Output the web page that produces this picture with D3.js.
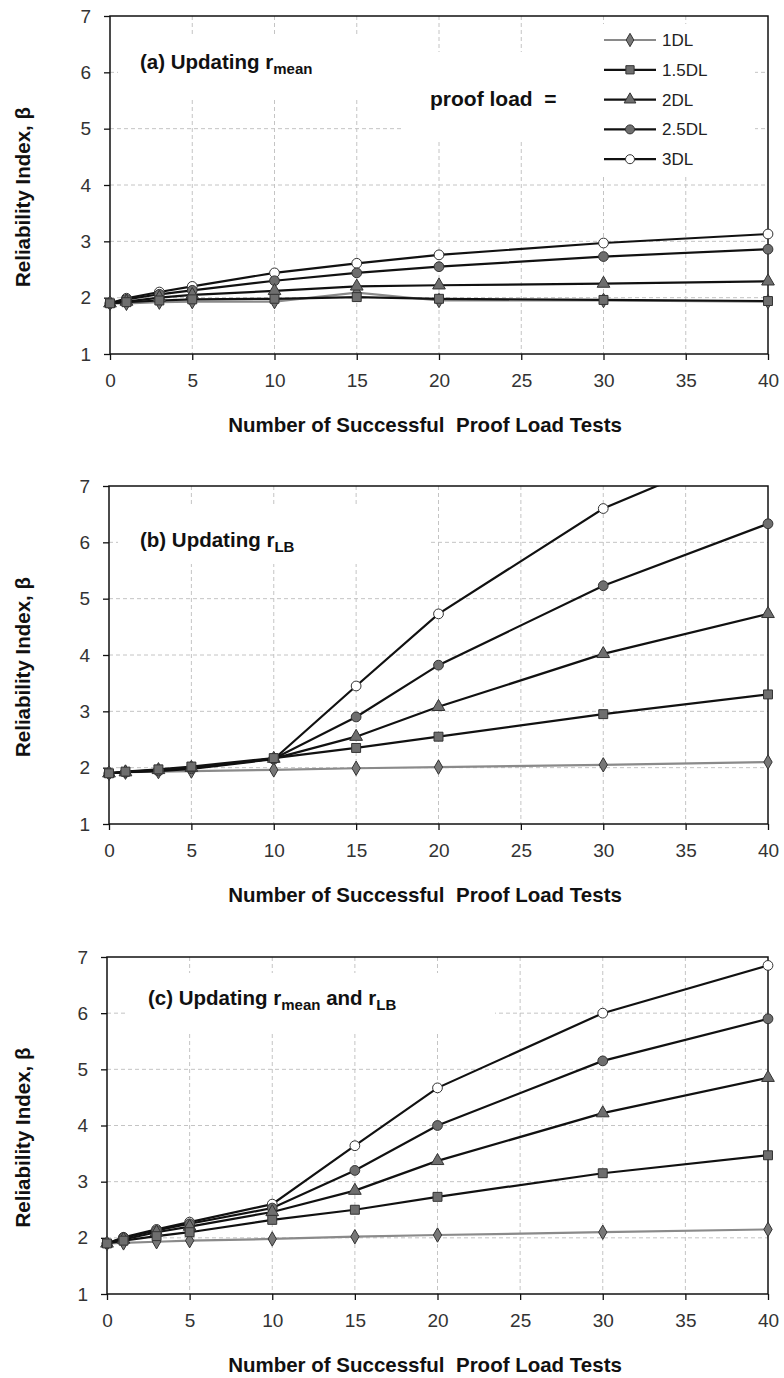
<!DOCTYPE html>
<html>
<head>
<meta charset="utf-8">
<script src="https://cdn.jsdelivr.net/npm/d3@7"></script>
<style>
  body { margin: 0; background: #fff; }
  svg text { font-family: "Liberation Sans", Arial, sans-serif; }
</style>
</head>
<body>
<div class="canvas"></div>
<script>
// number of proof load tests (x) and axis ticks
const tests = [0, 1, 3, 5, 10, 15, 20, 30, 40];
const xTicks = [0, 5, 10, 15, 20, 25, 30, 35, 40];
const yTicks = [1, 2, 3, 4, 5, 6, 7];
const loads = ['1DL', '1.5DL', '2DL', '2.5DL', '3DL'];

// (a) updating r_mean
const a1DL  = [1.90, 1.90, 1.92, 1.93, 1.93, 2.09, 1.95, 1.95, 1.93];
const a15DL = [1.90, 1.92, 1.95, 1.97, 1.98, 2.01, 1.98, 1.96, 1.94];
const a2DL  = [1.90, 1.93, 2.00, 2.05, 2.12, 2.20, 2.22, 2.25, 2.29];
const a25DL = [1.90, 1.97, 2.06, 2.13, 2.30, 2.44, 2.55, 2.73, 2.86];
const a3DL  = [1.90, 1.99, 2.10, 2.20, 2.44, 2.61, 2.76, 2.97, 3.13];

// (b) updating r_LB
const b1DL  = [1.90, 1.92, 1.93, 1.94, 1.96, 1.99, 2.01, 2.05, 2.10];
const b15DL = [1.90, 1.93, 1.97, 2.02, 2.17, 2.35, 2.55, 2.95, 3.30];
const b2DL  = [1.90, 1.92, 1.96, 2.00, 2.16, 2.55, 3.08, 4.02, 4.73];
const b25DL = [1.90, 1.92, 1.95, 1.99, 2.16, 2.90, 3.82, 5.23, 6.33];
const b3DL  = [1.90, 1.92, 1.94, 1.98, 2.15, 3.45, 4.73, 6.60, 7.83];

// (c) updating r_mean and r_LB
const c1DL  = [1.90, 1.91, 1.93, 1.95, 1.98, 2.02, 2.05, 2.10, 2.15];
const c15DL = [1.90, 1.95, 2.03, 2.10, 2.32, 2.50, 2.73, 3.15, 3.47];
const c2DL  = [1.90, 1.97, 2.10, 2.20, 2.46, 2.84, 3.37, 4.22, 4.85];
const c25DL = [1.90, 2.00, 2.13, 2.25, 2.53, 3.20, 4.00, 5.15, 5.90];
const c3DL  = [1.90, 2.01, 2.15, 2.28, 2.60, 3.64, 4.67, 6.00, 6.85];

const svg = d3.select('.canvas')
    .append('svg')
        .attr('width', 784)
        .attr('height', 1378);

// marker style per proof load
const markers = {
    '1DL':   {shape: d3.symbolDiamond,  size: 60, fill: '#777', line: '#8a8a8a'},
    '1.5DL': {shape: d3.symbolSquare,   size: 80, fill: '#6e6e6e', line: '#111'},
    '2DL':   {shape: d3.symbolTriangle, size: 70, fill: '#6e6e6e', line: '#111'},
    '2.5DL': {shape: d3.symbolCircle,   size: 75, fill: '#6e6e6e', line: '#111'},
    '3DL':   {shape: d3.symbolCircle,   size: 75, fill: '#fff', line: '#111'}
};
// draw order (later on top)
const drawOrder = ['1DL', '3DL', '2.5DL', '2DL', '1.5DL'];

const panels = [
    {id: 'a', left: 110, top: 16, bottom: 354, titleX: 140, titleY: 69,
     title: [['(a) Updating r', 0], ['mean', 1]],
     boxes: [[118, 36, 285, 61], [403, 52, 195, 88], [598, 24, 157, 150]],
     series: {'1DL': a1DL, '1.5DL': a15DL, '2DL': a2DL, '2.5DL': a25DL, '3DL': a3DL}},
    {id: 'b', left: 109, top: 486, bottom: 824, titleX: 140, titleY: 547,
     title: [['(b) Updating r', 0], ['LB', 1]],
     boxes: [[118, 506, 310, 58]],
     series: {'1DL': b1DL, '1.5DL': b15DL, '2DL': b2DL, '2.5DL': b25DL, '3DL': b3DL}},
    {id: 'c', left: 107, top: 957, bottom: 1294, titleX: 148, titleY: 1005,
     title: [['(c) Updating r', 0], ['mean', 1], [' and r', 0], ['LB', 1]],
     boxes: [[125, 973, 370, 60]],
     series: {'1DL': c1DL, '1.5DL': c15DL, '2DL': c2DL, '2.5DL': c25DL, '3DL': c3DL}}
];

const right = 768;

panels.forEach(p => {
    const x = d3.scaleLinear().domain([0, 40]).range([p.left, right]);
    const y = d3.scaleLinear().domain([1, 7]).range([p.bottom, p.top]);
    const g = svg.append('g');

    // grid lines
    g.append('g').selectAll('line.v')
        .data(xTicks.slice(1, -1))
        .enter().append('line')
            .attr('x1', d => x(d)).attr('x2', d => x(d))
            .attr('y1', p.top).attr('y2', p.bottom)
            .attr('stroke', '#c4c4c4').attr('stroke-dasharray', '4,3');
    g.append('g').selectAll('line.h')
        .data(yTicks.slice(1, -1))
        .enter().append('line')
            .attr('x1', p.left).attr('x2', right)
            .attr('y1', d => y(d)).attr('y2', d => y(d))
            .attr('stroke', '#c4c4c4').attr('stroke-dasharray', '4,3');

    // white boxes behind the text labels
    p.boxes.forEach(b => {
        g.append('rect').attr('x', b[0]).attr('y', b[1])
            .attr('width', b[2]).attr('height', b[3]).attr('fill', '#fff');
    });

    // axes
    const xAxis = d3.axisBottom(x).tickValues(xTicks).tickSize(6).tickPadding(14);
    const yAxis = d3.axisLeft(y).tickValues(yTicks).tickSize(6).tickPadding(13)
        .tickFormat(d3.format('d'));
    const xg = g.append('g').attr('transform', `translate(0,${p.bottom})`).call(xAxis);
    const yg = g.append('g').attr('transform', `translate(${p.left},0)`).call(yAxis);
    [xg, yg].forEach(ax => {
        ax.select('.domain').remove();
        ax.selectAll('line').attr('stroke', '#111').attr('stroke-width', 1.3);
        ax.selectAll('text').attr('font-size', 19).attr('fill', '#333')
            .attr('font-family', '"Liberation Sans", Arial, sans-serif');
    });

    // frame
    g.append('rect')
        .attr('x', p.left).attr('y', p.top)
        .attr('width', right - p.left).attr('height', p.bottom - p.top)
        .attr('fill', 'none').attr('stroke', '#111').attr('stroke-width', 1.5);

    // clip for lines
    const clipId = 'clip-' + p.id;
    svg.append('clipPath').attr('id', clipId)
        .append('rect')
            .attr('x', p.left - 8).attr('y', p.top)
            .attr('width', right - p.left + 16).attr('height', p.bottom - p.top + 8);

    const plot = g.append('g').attr('clip-path', `url(#${clipId})`);
    const line = d3.line().x((d, i) => x(tests[i])).y(d => y(d));

    drawOrder.forEach(k => {
        const vals = p.series[k];
        const m = markers[k];
        plot.append('path')
            .attr('d', line(vals))
            .attr('fill', 'none')
            .attr('stroke', m.line)
            .attr('stroke-width', 2.2);
    });
    drawOrder.forEach(k => {
        const vals = p.series[k];
        const m = markers[k];
        plot.selectAll('path.m' + k.replace('.', ''))
            .data(vals.filter(v => v <= 7))
            .enter().append('path')
                .attr('d', d3.symbol().type(m.shape).size(m.size))
                .attr('transform', (d, i) => `translate(${x(tests[i])},${y(d)})`)
                .attr('fill', m.fill)
                .attr('stroke', '#333')
                .attr('stroke-width', 1);
    });

    // panel title with subscripts
    const t = g.append('text')
        .attr('x', p.titleX).attr('y', p.titleY)
        .attr('font-size', 20.5).attr('font-weight', 'bold').attr('fill', '#111');
    p.title.forEach(part => {
        t.append('tspan')
            .attr('font-size', part[1] ? 15 : 20.5)
            .attr('dy', part[1] ? 5 : (part[0].startsWith(' ') ? -5 : 0))
            .text(part[0]);
    });

    // axis titles
    g.append('text')
        .attr('transform', `translate(29.5,${(p.top + p.bottom) / 2 + 12}) rotate(-90)`)
        .attr('text-anchor', 'middle')
        .attr('font-size', 20.5).attr('font-weight', 'bold').attr('fill', '#111')
        .text('Reliability Index, β');
    g.append('text')
        .attr('x', 425).attr('y', p.bottom + 78)
        .attr('text-anchor', 'middle')
        .attr('font-size', 20.5).attr('font-weight', 'bold').attr('fill', '#111')
        .attr('xml:space', 'preserve')
        .text('Number of Successful  Proof Load Tests');
});

// legend in panel (a)
const legend = svg.append('g');
legend.append('text')
    .attr('x', 430).attr('y', 106)
    .attr('font-family', 'Lato, "Open Sans", sans-serif')
    .attr('font-size', 21).attr('font-weight', 'bold').attr('fill', '#111')
    .attr('xml:space', 'preserve')
    .text('proof load  =');

loads.forEach((k, i) => {
    const ly = 40 + i * 29.8;
    const m = markers[k];
    legend.append('line')
        .attr('x1', 604).attr('x2', 656).attr('y1', ly).attr('y2', ly)
        .attr('stroke', m.line).attr('stroke-width', 2.2);
    legend.append('path')
        .attr('d', d3.symbol().type(m.shape).size(m.size * 0.85))
        .attr('transform', `translate(630,${ly})`)
        .attr('fill', m.fill).attr('stroke', '#333').attr('stroke-width', 1);
    legend.append('text')
        .attr('x', 662).attr('y', ly + 6)
        .attr('font-family', 'Lato, "Open Sans", sans-serif')
        .attr('font-size', 17).attr('fill', '#222')
        .text(k);
});
</script>
</body>
</html>
